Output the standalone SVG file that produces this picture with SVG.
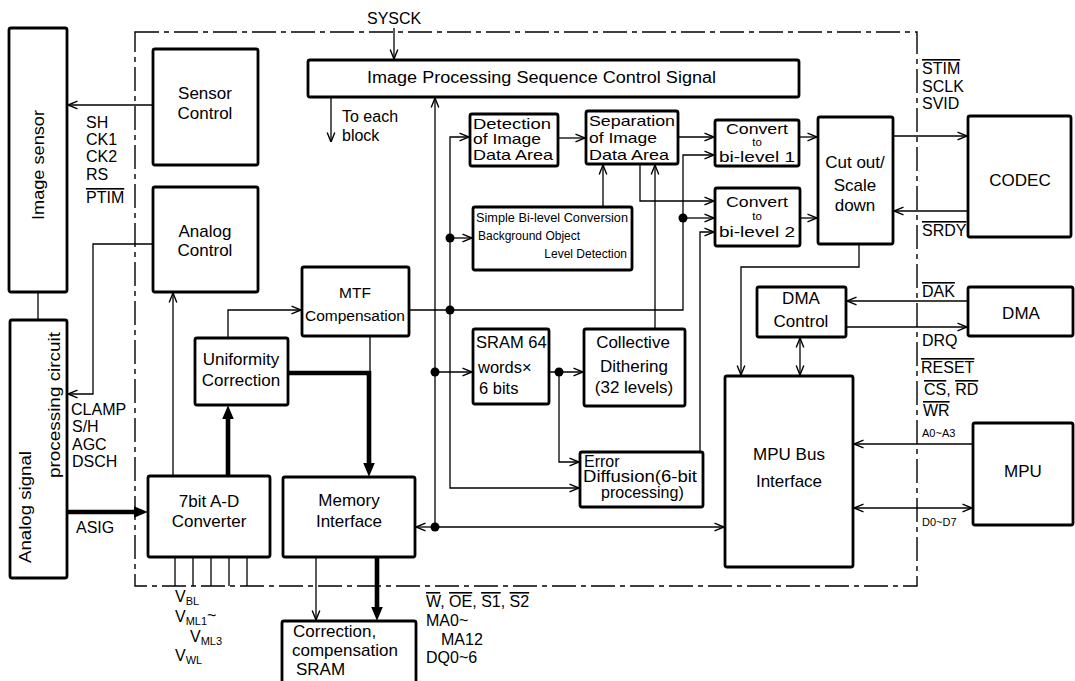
<svg xmlns="http://www.w3.org/2000/svg" width="1075" height="681" viewBox="0 0 1075 681">
<style>
text{font-family:"Liberation Sans",Arial,Helvetica,sans-serif;fill:#000;font-size:16px}
.box{fill:#fff;stroke:#000;stroke-width:2.8}
.ln{fill:none;stroke:#000;stroke-width:1.3}
.tk{fill:none;stroke:#000;stroke-width:4.6}
.bd{fill:none;stroke:#000;stroke-width:1.4;stroke-dasharray:24 5 5 5}
.c{text-anchor:middle}
.e{text-anchor:end}
.m{font-size:17px}
.d{font-size:15px}
.cv{font-size:15px}
.to{font-size:11.5px}
.s{font-size:12px}
.xs{font-size:11px}
.ov{text-decoration:overline}
.dot{fill:#000}
</style>
<defs>
<marker id="ah" viewBox="0 0 10 10" refX="10" refY="5" markerWidth="10" markerHeight="10" markerUnits="userSpaceOnUse" orient="auto-start-reverse"><path d="M0.5,1.2 L10,5 L0.5,8.8" fill="none" stroke="#000" stroke-width="1.4"/></marker>
<marker id="af" viewBox="0 0 10 10" refX="3" refY="5" markerWidth="14" markerHeight="14" markerUnits="userSpaceOnUse" orient="auto"><path d="M0,0.8 L10,5 L0,9.2 z" fill="#000"/></marker>
</defs>
<rect width="1075" height="681" fill="#fff"/>

<path class="bd" d="M135,32 H917 V586 H135 Z"/>

<g id="image-sensor"><rect class="box" x="9" y="28" width="58" height="264" rx="2"/>
<text class="m c" transform="translate(44,165) rotate(-90)" textLength="110" lengthAdjust="spacingAndGlyphs">Image sensor</text></g>
<g id="analog-signal"><rect class="box" x="10" y="320" width="57" height="258" rx="2"/>
<text class="m" transform="translate(31,563) rotate(-90)" textLength="112" lengthAdjust="spacingAndGlyphs">Analog signal</text>
<text class="m" transform="translate(60,478) rotate(-90)" textLength="146" lengthAdjust="spacingAndGlyphs">processing circuit</text></g>

<g id="sensor-control"><rect class="box" x="153" y="49" width="105" height="116" rx="2"/>
<text class="m c" x="205" y="99">Sensor</text><text class="m c" x="205" y="119">Control</text></g>
<g id="analog-control"><rect class="box" x="153" y="187" width="105" height="105" rx="2"/>
<text class="m c" x="205" y="237">Analog</text><text class="m c" x="205" y="256">Control</text></g>
<g id="uniformity"><rect class="box" x="195" y="338" width="93" height="67" rx="2"/>
<text class="m c" x="241" y="365">Uniformity</text><text class="m c" x="241" y="386">Correction</text></g>
<g id="mtf"><rect class="box" x="302" y="267" width="107" height="69" rx="2"/>
<text class="c" x="355" y="298" style="font-size:15.5px">MTF</text><text class="c" x="355" y="321" style="font-size:15.5px">Compensation</text></g>
<g id="adc"><rect class="box" x="148" y="476" width="122" height="81" rx="2"/>
<text class="m c" x="209" y="507">7bit A-D</text><text class="m c" x="209" y="527">Converter</text></g>
<g id="memory-interface"><rect class="box" x="283" y="477" width="132" height="80" rx="2"/>
<text class="m c" x="349" y="506">Memory</text><text class="m c" x="349" y="527">Interface</text></g>
<g id="sram-ext"><rect class="box" x="282" y="621" width="134" height="64" rx="2"/>
<text class="m" x="293" y="637">Correction,</text><text class="m" x="292" y="656">compensation</text><text class="m" x="296" y="675">SRAM</text></g>

<g id="ipsc"><rect class="box" x="308" y="60" width="491" height="37" rx="2"/>
<text x="367" y="83" textLength="349" lengthAdjust="spacingAndGlyphs">Image Processing Sequence Control Signal</text></g>
<g id="detection"><rect class="box" x="470" y="114" width="88" height="52" rx="2"/>
<text class="d" x="473" y="129" textLength="78" lengthAdjust="spacingAndGlyphs">Detection</text>
<text class="d" x="473" y="144" textLength="68" lengthAdjust="spacingAndGlyphs">of Image</text>
<text class="d" x="473" y="160" textLength="80" lengthAdjust="spacingAndGlyphs">Data Area</text></g>
<g id="separation"><rect class="box" x="586" y="111" width="92" height="53" rx="2"/>
<text class="d" x="589" y="126" textLength="86" lengthAdjust="spacingAndGlyphs">Separation</text>
<text class="d" x="589" y="143" textLength="68" lengthAdjust="spacingAndGlyphs">of Image</text>
<text class="d" x="589" y="160" textLength="80" lengthAdjust="spacingAndGlyphs">Data Area</text></g>
<g id="simple"><rect class="box" x="473" y="207" width="159" height="63" rx="2"/>
<text class="s" x="476" y="222" textLength="152" lengthAdjust="spacingAndGlyphs">Simple Bi-level Conversion</text>
<text class="s" x="478" y="240">Background Object</text>
<text class="s e" x="627" y="258">Level Detection</text></g>
<g id="sram64"><rect class="box" x="473" y="329" width="76" height="75" rx="2"/>
<text x="476" y="348" style="font-size:16.5px">SRAM 64</text><text x="478" y="373" style="font-size:16.5px">words×</text><text x="479" y="394" style="font-size:16.5px">6 bits</text></g>
<g id="collective"><rect class="box" x="584" y="329" width="101" height="77" rx="2"/>
<text class="m c" x="633" y="348">Collective</text><text class="m c" x="634" y="372">Dithering</text><text class="m c" x="634" y="393">(32 levels)</text></g>
<g id="error-diffusion"><rect class="box" x="580" y="452" width="123" height="55" rx="2"/>
<text x="584" y="467">Error</text><text x="583" y="482" textLength="114" lengthAdjust="spacingAndGlyphs">Diffusion(6-bit</text><text x="601" y="498">processing)</text></g>
<g id="bilevel1"><rect class="box" x="715" y="120" width="84" height="46" rx="2"/>
<text class="cv c" x="757" y="134" textLength="62" lengthAdjust="spacingAndGlyphs">Convert</text><text class="to c" x="757" y="146">to</text><text class="cv c" x="757" y="162" textLength="76" lengthAdjust="spacingAndGlyphs">bi-level 1</text></g>
<g id="bilevel2"><rect class="box" x="715" y="188" width="85" height="58" rx="2"/>
<text class="cv c" x="757" y="207" textLength="62" lengthAdjust="spacingAndGlyphs">Convert</text><text class="to c" x="757" y="220">to</text><text class="cv c" x="757" y="237" textLength="76" lengthAdjust="spacingAndGlyphs">bi-level 2</text></g>
<g id="cutout"><rect class="box" x="818" y="117" width="75" height="127" rx="2"/>
<text class="m c" x="855" y="168">Cut out/</text><text class="m c" x="855" y="191">Scale</text><text class="m c" x="855" y="211">down</text></g>
<g id="codec"><rect class="box" x="968" y="116" width="103" height="121" rx="2"/>
<text class="m c" x="1020" y="186">CODEC</text></g>
<g id="dma-control"><rect class="box" x="757" y="287" width="89" height="50" rx="2"/>
<text class="m c" x="801" y="304">DMA</text><text class="m c" x="801" y="327">Control</text></g>
<g id="dma"><rect class="box" x="968" y="287" width="105" height="49" rx="2"/>
<text class="m c" x="1021" y="319">DMA</text></g>
<g id="mpu-bus"><rect class="box" x="725" y="376" width="128" height="191" rx="2"/>
<text class="m c" x="789" y="460">MPU Bus</text><text class="m c" x="789" y="487">Interface</text></g>
<g id="mpu"><rect class="box" x="973" y="423" width="100" height="102" rx="2"/>
<text class="m c" x="1023" y="477">MPU</text></g>

<g id="connectors">
<path class="ln" d="M394,28 V59" marker-end="url(#ah)"/>
<path class="ln" d="M331,97 V142" marker-end="url(#ah)"/>
<path class="ln" d="M153,105 H68" marker-end="url(#ah)"/>
<path class="ln" d="M153,244 H93 V394 H68" marker-end="url(#ah)"/>
<path class="ln" d="M38,292 V320"/>
<path class="tk" d="M67,512 H138" marker-end="url(#af)"/>
<path class="ln" d="M173,476 V293" marker-end="url(#ah)"/>
<path class="tk" d="M228,476 V415" marker-end="url(#af)"/>
<path class="ln" d="M228,338 V310 H301" marker-end="url(#ah)"/>
<path class="tk" d="M288,373 H369 V467" marker-end="url(#af)"/>
<path class="ln" d="M370,336 V373"/>
<path class="tk" d="M377,557 V611" marker-end="url(#af)"/>
<path class="ln" d="M316,557 V620" marker-end="url(#ah)"/>
<path class="ln" d="M175,557 V586 M193,557 V586 M211,557 V586 M229,557 V586 M247,557 V586"/>
<path class="ln" d="M409,310 H683 V155 H714" marker-end="url(#ah)"/>
<path class="ln" d="M683,218 H714" marker-end="url(#ah)"/>
<path class="ln" d="M450,310 V137 H469" marker-end="url(#ah)"/>
<path class="ln" d="M450,310 V488 H579" marker-end="url(#ah)"/>
<path class="ln" d="M450,238 H472" marker-end="url(#ah)"/>
<path class="ln" d="M435,527 V98" marker-end="url(#ah)"/>
<path class="ln" d="M435,372 H472" marker-end="url(#ah)"/>
<path class="ln" d="M435,527 H416" marker-end="url(#ah)"/>
<path class="ln" d="M435,527 H724" marker-end="url(#ah)"/>
<path class="ln" d="M549,372 H583" marker-end="url(#ah)"/>
<path class="ln" d="M559,372 V462 H579" marker-end="url(#ah)"/>
<path class="ln" d="M655,329 V165" marker-end="url(#ah)"/>
<path class="ln" d="M603,207 V165" marker-end="url(#ah)"/>
<path class="ln" d="M640,164 V201 H714" marker-end="url(#ah)"/>
<path class="ln" d="M558,138 H585" marker-end="url(#ah)"/>
<path class="ln" d="M678,137 H714" marker-end="url(#ah)"/>
<path class="ln" d="M700,452 V232 H714" marker-end="url(#ah)"/>
<path class="ln" d="M799,137 H817" marker-end="url(#ah)"/>
<path class="ln" d="M800,218 H817" marker-end="url(#ah)"/>
<path class="ln" d="M893,136 H967" marker-end="url(#ah)"/>
<path class="ln" d="M968,211 H894" marker-end="url(#ah)"/>
<path class="ln" d="M859,244 V267 H741 V375" marker-end="url(#ah)"/>
<path class="ln" d="M968,301 H847" marker-end="url(#ah)"/>
<path class="ln" d="M846,327 H967" marker-end="url(#ah)"/>
<path class="ln" d="M800,338 V375" marker-start="url(#ah)" marker-end="url(#ah)"/>
<path class="ln" d="M973,444 H854" marker-end="url(#ah)"/>
<path class="ln" d="M854,508 H972" marker-start="url(#ah)" marker-end="url(#ah)"/>
<circle class="dot" cx="683" cy="218" r="4.5"/>
<circle class="dot" cx="450" cy="310" r="4.5"/>
<circle class="dot" cx="450" cy="238" r="4.5"/>
<circle class="dot" cx="435" cy="372" r="4.5"/>
<circle class="dot" cx="435" cy="527" r="4.5"/>
<circle class="dot" cx="559" cy="372" r="4.5"/>
</g>

<g id="labels">
<text x="367" y="24">SYSCK</text>
<text x="342" y="122">To each</text><text x="342" y="141">block</text>
<text x="86" y="128">SH</text><text x="86" y="145">CK1</text><text x="86" y="162">CK2</text><text x="86" y="180">RS</text><text x="86" y="203" class="ov">PTIM</text>
<text x="71" y="415">CLAMP</text><text x="72" y="432">S/H</text><text x="72" y="450">AGC</text><text x="72" y="467">DSCH</text>
<text x="76" y="533">ASIG</text>
<text x="175" y="602">V<tspan style="font-size:11px" dy="3">BL</tspan></text>
<text x="175" y="622">V<tspan style="font-size:11px" dy="3">ML1</tspan><tspan dy="-4">~</tspan></text>
<text x="190" y="642">V<tspan style="font-size:11px" dy="3">ML3</tspan></text>
<text x="175" y="661">V<tspan style="font-size:11px" dy="3">WL</tspan></text>
<text x="426" y="607"><tspan class="ov">W</tspan>, <tspan class="ov">OE</tspan>, <tspan class="ov">S1</tspan>, <tspan class="ov">S2</tspan></text>
<text x="426" y="626">MA0~</text><text x="441" y="645">MA12</text><text x="426" y="663">DQ0~6</text>
<text x="922" y="74" class="ov">STIM</text><text x="922" y="92">SCLK</text><text x="922" y="109">SVID</text>
<text x="922" y="236" class="ov">SRDY</text>
<text x="922" y="297" class="ov">DAK</text><text x="922" y="346">DRQ</text>
<text x="921" y="373" class="ov">RESET</text>
<text x="924" y="395"><tspan class="ov">CS</tspan>, <tspan class="ov">RD</tspan></text>
<text x="923" y="416" class="ov">WR</text>
<text x="922" y="437" class="xs">A0~A3</text>
<text x="922" y="526" class="xs">D0~D7</text>
</g>
</svg>
